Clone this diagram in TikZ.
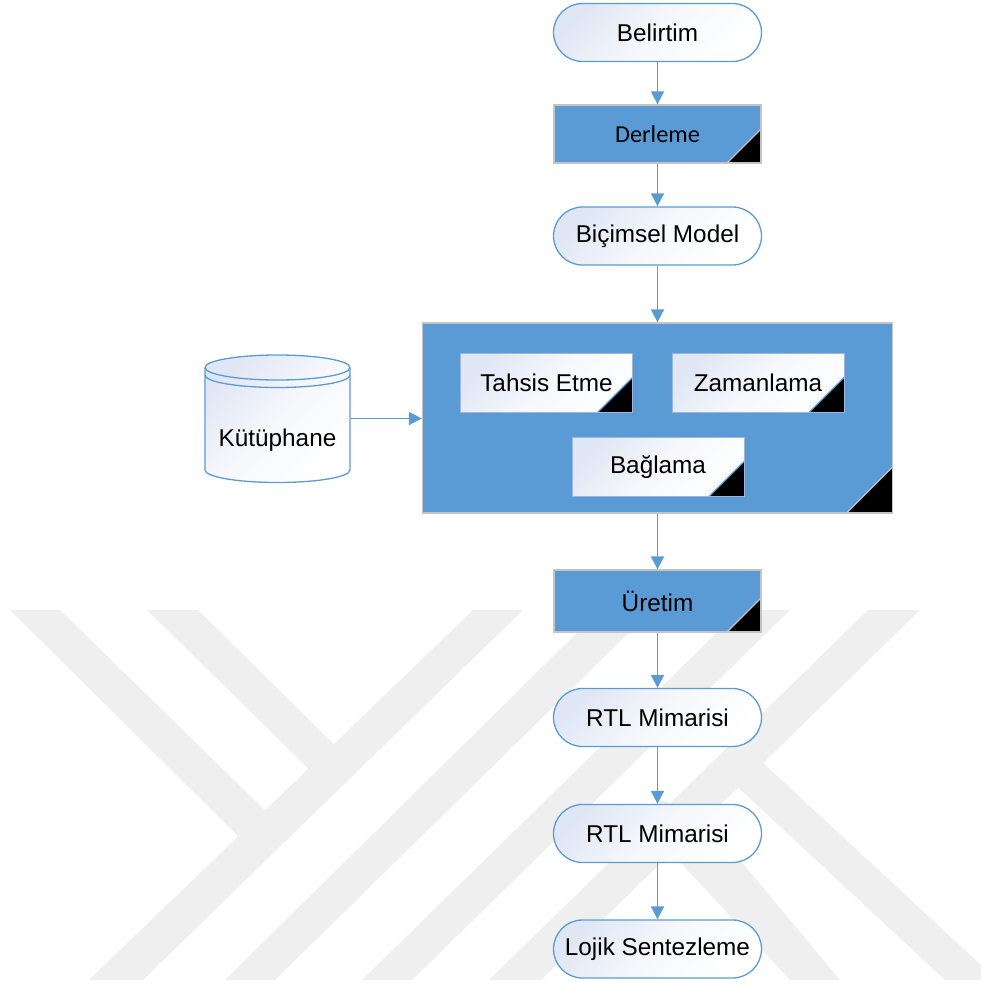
\documentclass[tikz,border=0pt]{standalone}
\usepackage{fontspec}
\setmainfont{Liberation Sans}
\newfontfamily\calibrifont{Carlito}
\usetikzlibrary{arrows.meta}
\definecolor{flowblue}{HTML}{5B9BD5}
\definecolor{edgegrey}{HTML}{C4C4C4}
\definecolor{markgrey}{HTML}{EFEFEF}
\definecolor{paleblue}{HTML}{E0E7F4}
\definecolor{subedge}{HTML}{9CB8DE}

\begin{document}
\begin{tikzpicture}[x=1bp,y=-1bp,
  font=\fontsize{24.4}{29}\selectfont,
  cornerbox/.style n args={2}{path picture={
      \fill[black] (path picture bounding box.south east) -- ++(-#1,0pt) -- ++(#1,#1) -- cycle;
      \draw[#2, line width=1.1bp] (path picture bounding box.south east) ++(-#1,0pt) -- ++(#1,#1);
  }},
  softfill/.style={top color=paleblue, bottom color=white, middle color=white!70!paleblue, shading angle=45},
  terminal/.style={draw=flowblue, line width=1.3bp, rounded corners=29bp,
      minimum width=208bp, minimum height=58bp, inner sep=0pt, softfill},
  procbox/.style={fill=flowblue, draw=edgegrey, line width=1.3bp, inner sep=0pt},
  subbox/.style={draw=subedge, line width=0.9bp, softfill,
      minimum width=172bp, minimum height=59bp, inner sep=0pt, cornerbox={35bp}{flowblue}},
  flow/.style={draw=flowblue, line width=1.8bp, -{Triangle[width=13bp,length=13bp]}}
]
\useasboundingbox (0,0) rectangle (981,985);

% faint background emblem
\fill[markgrey] (10,610) -- (60,610) -- (275,820) -- (248,846) -- cycle;
\fill[markgrey] (147,610) -- (198,610) -- (345,755) -- (320,780) -- cycle;
\fill[markgrey] (473,610) -- (523,610) -- (143,980) -- (89,980) -- cycle;
\fill[markgrey] (600,610) -- (652,610) -- (275,980) -- (225,980) -- cycle;
\fill[markgrey] (740,610) -- (790,610) -- (412,980) -- (362,980) -- cycle;
\fill[markgrey] (868,610) -- (920,610) -- (541,980) -- (489,980) -- cycle;
\fill[markgrey] (760,760) -- (981,965) -- (981,980) -- (945,980) -- (730,780) -- cycle;
\fill[markgrey] (660,800) -- (700,812) -- (840,980) -- (790,980) -- (650,830) -- cycle;

% main column
\node[terminal] (bel) at (657.5,32.5) {Belirtim};
\node[procbox, minimum width=207bp, minimum height=58bp, cornerbox={34bp}{edgegrey},
      font=\calibrifont\fontsize{24.4}{29}\selectfont] (der) at (657.5,134) {Derleme};
\node[terminal] (bic) at (657.5,236) {Biçimsel Model};

\node[procbox, minimum width=470bp, minimum height=190bp, cornerbox={46bp}{edgegrey}] (blk) at (657.5,418) {};
\node[subbox] (tah) at (546.5,383) {Tahsis Etme};
\node[subbox] (zam) at (758,383) {Zamanlama};
\node[subbox] (bag) at (658,467) {Bağlama};

\node[procbox, minimum width=207bp, minimum height=62bp, cornerbox={34bp}{edgegrey}] (ure) at (657.5,601) {Üretim};
\node[terminal] (rtla) at (657.5,717.5) {RTL Mimarisi};
\node[terminal] (rtlb) at (657.5,833.5) {RTL Mimarisi};
\node[terminal] (loj) at (657.5,949) {Lojik Sentezleme};

% library store
\node[minimum width=146bp, minimum height=128bp, inner sep=0pt] (kut) at (277.5,418.5) {};
\path[softfill] (205,367.5) -- (205,470)
   arc[start angle=180, end angle=360, x radius=72.5bp, y radius=12.5bp] -- (350,367.5)
   arc[start angle=0, end angle=180, x radius=72.5bp, y radius=12.5bp] -- cycle;
\draw[flowblue, line width=1.3bp] (205,367.5) -- (205,470)
   arc[start angle=180, end angle=360, x radius=72.5bp, y radius=12.5bp] -- (350,367.5)
   arc[start angle=0, end angle=180, x radius=72.5bp, y radius=12.5bp];
\draw[flowblue, line width=1.3bp] (350,367.5)
   arc[start angle=0, end angle=-180, x radius=72.5bp, y radius=12.5bp];
\draw[flowblue, line width=1.3bp] (205,375)
   arc[start angle=180, end angle=360, x radius=72.5bp, y radius=12.5bp];
\node (kutlbl) at (277.5,440) {Kütüphane};

% connectors
\draw[flow] (bel) -- (der);
\draw[flow] (der) -- (bic);
\draw[flow] (bic) -- (blk);
\draw[flow] (kut.east) -- (kut.east -| blk.west);
\draw[flow] (blk) -- (ure);
\draw[flow] (ure) -- (rtla);
\draw[flow] (rtla) -- (rtlb);
\draw[flow] (rtlb) -- (loj);
\end{tikzpicture}
\end{document}
